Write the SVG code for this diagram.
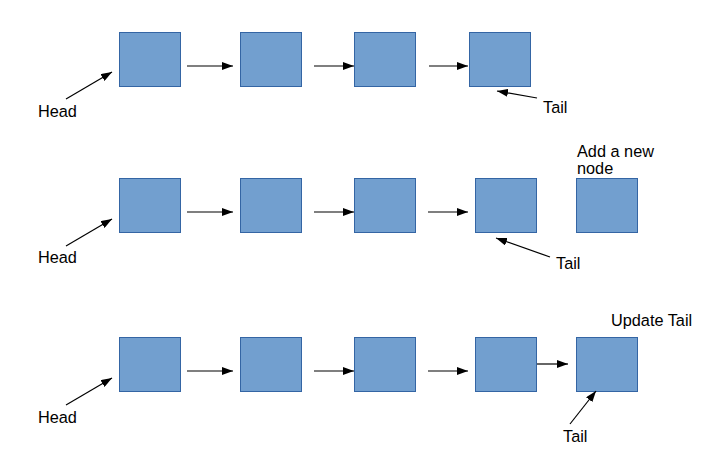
<svg xmlns="http://www.w3.org/2000/svg" width="711" height="471" viewBox="0 0 711 471">
<defs>
<marker id="ah" markerUnits="userSpaceOnUse" markerWidth="11" markerHeight="8" refX="11" refY="4" orient="auto">
<path d="M0,0 L11,4 L0,8 z" fill="#000"/>
</marker>
<style>
.node{fill:#729fcf;stroke:#3465a4;stroke-width:1}
.conn{stroke:#000;stroke-width:1.2;fill:none;marker-end:url(#ah)}
.lbl{font-family:"Liberation Sans",Arial,sans-serif;font-size:16.3px;fill:#000}
</style>
</defs>
<rect width="711" height="471" fill="#fff"/>
<g id="row1">
<g id="r1n1"><rect class="node" x="119.5" y="32.5" width="61" height="54"/></g>
<g id="r1n2"><rect class="node" x="240.5" y="32.5" width="61" height="54"/></g>
<g id="r1n3"><rect class="node" x="354.5" y="32.5" width="61" height="54"/></g>
<g id="r1n4"><rect class="node" x="469.5" y="32.5" width="61" height="54"/></g>
<g id="r1head"><text class="lbl" x="38" y="117">Head</text></g>
<g id="r1tail"><text class="lbl" x="543" y="113">Tail</text></g>
</g>
<g id="row2">
<g id="r2n1"><rect class="node" x="119.5" y="178.5" width="61" height="54"/></g>
<g id="r2n2"><rect class="node" x="240.5" y="178.5" width="61" height="54"/></g>
<g id="r2n3"><rect class="node" x="354.5" y="178.5" width="61" height="54"/></g>
<g id="r2n4"><rect class="node" x="475.5" y="178.5" width="61" height="54"/></g>
<g id="r2n5"><rect class="node" x="576.5" y="178.5" width="61" height="54"/></g>
<g id="r2head"><text class="lbl" x="38" y="263">Head</text></g>
<g id="r2tail"><text class="lbl" x="556" y="269">Tail</text></g>
<g id="r2add"><text class="lbl" x="577" y="157">Add a new</text><text class="lbl" x="577" y="174">node</text></g>
</g>
<g id="row3">
<g id="r3n1"><rect class="node" x="119.5" y="337.5" width="61" height="54"/></g>
<g id="r3n2"><rect class="node" x="240.5" y="337.5" width="61" height="54"/></g>
<g id="r3n3"><rect class="node" x="354.5" y="337.5" width="61" height="54"/></g>
<g id="r3n4"><rect class="node" x="475.5" y="337.5" width="61" height="54"/></g>
<g id="r3n5"><rect class="node" x="576.5" y="337.5" width="61" height="54"/></g>
<g id="r3head"><text class="lbl" x="38" y="423">Head</text></g>
<g id="r3tail"><text class="lbl" x="563" y="442">Tail</text></g>
<g id="r3upd"><text class="lbl" x="611" y="326">Update Tail</text></g>
</g>
<g id="connectors">
<line class="conn" x1="66" y1="99" x2="112" y2="72"/>
<line class="conn" x1="187" y1="66" x2="233" y2="66"/>
<line class="conn" x1="314" y1="66" x2="354" y2="66"/>
<line class="conn" x1="429" y1="66" x2="468" y2="66"/>
<line class="conn" x1="537" y1="98" x2="497" y2="91"/>

<line class="conn" x1="66" y1="246" x2="112" y2="219"/>
<line class="conn" x1="187" y1="212" x2="233" y2="212"/>
<line class="conn" x1="314" y1="212" x2="354" y2="212"/>
<line class="conn" x1="428" y1="212" x2="468" y2="212"/>
<line class="conn" x1="550" y1="257" x2="496" y2="238"/>

<line class="conn" x1="66" y1="405" x2="112" y2="378"/>
<line class="conn" x1="187" y1="371" x2="233" y2="371"/>
<line class="conn" x1="314" y1="371" x2="354" y2="371"/>
<line class="conn" x1="428" y1="371" x2="468" y2="371"/>
<line class="conn" x1="537" y1="364" x2="568" y2="364"/>
<line class="conn" x1="570" y1="424" x2="596" y2="391"/>
</g>
</svg>
